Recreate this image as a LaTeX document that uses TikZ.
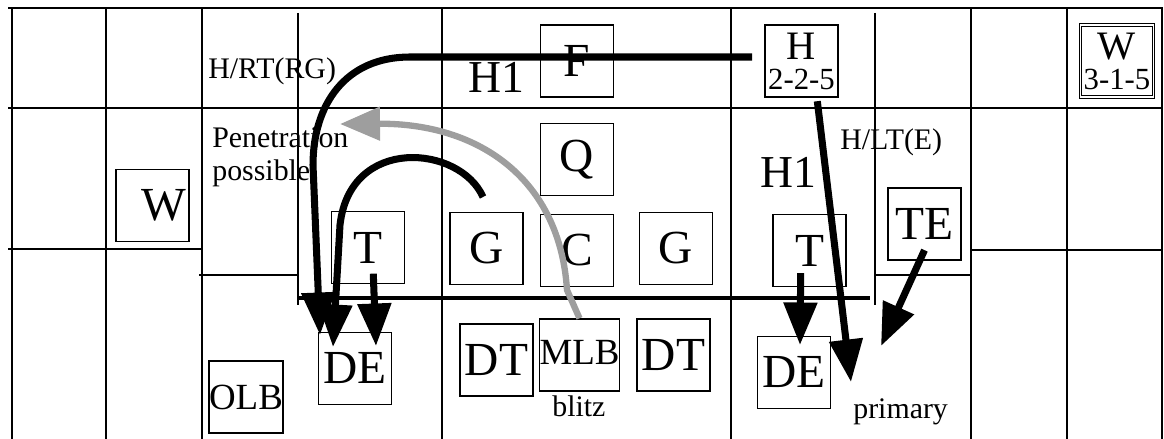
\documentclass[tikz,border=0pt]{standalone}
\usepackage{fontspec}
\setmainfont{Liberation Serif}
\usetikzlibrary{arrows.meta,positioning}

\begin{document}
\begin{tikzpicture}[x=0.02cm,y=-0.02cm,
	grid/.style={line width=1.1pt},
	player/.style={draw,line width=0.8pt,minimum width=1.46cm,minimum height=1.44cm,inner sep=0pt,font=\fontsize{27}{27}\selectfont},
	lbl/.style={inner sep=0pt,anchor=base west,font=\fontsize{17}{19}\selectfont},
	big/.style={inner sep=0pt,anchor=base west,font=\fontsize{26}{26}\selectfont},
	run/.style={line width=4pt,-{Triangle[length=0.85cm,width=0.65cm]}},
	blitzrun/.style={line width=3.6pt,black!38,-{Triangle[length=0.8cm,width=0.65cm]}}]
	\useasboundingbox (0,0) rectangle (1164,439);
	% field grid
	\draw[line width=1.7pt] (8,8) -- (1163,8);
	\draw[grid] (8,108) -- (1163,108);
	\foreach \x in {12,106,202,442,731,971,1067,1162}
	\draw[grid] (\x,8) -- (\x,439);
	\foreach \x in {298,875}
	\draw[grid] (\x,13) -- (\x,305);
	\draw[grid] (8,249) -- (202,249);
	\draw[grid] (971,250) -- (1163,250);
	\draw[line width=1.4pt] (199,275) -- (298,275);
	\draw[line width=1.4pt] (875,275) -- (971,275);
	\draw[line width=2.3pt] (298,298) -- (870,298);
	
	% offense
	\node[player] (F) at (577,61) {F};
	\node[player,align=center,font=\fontsize{23}{17}\selectfont] (Hb) at (801.5,61) {H\\{\fontsize{17.5}{17}\selectfont 2-2-5}};
	\node[player,double,double distance=1pt,line width=0.5pt,align=center,font=\fontsize{23}{17}\selectfont] (Wr) at (1117,61) {W\\{\fontsize{17.5}{17}\selectfont 3-1-5}};
	\node[player] (Q) at (577,159.5) {Q};
	\node[player] (Wl) at (152.5,205.5) {\hspace*{0.45cm}W};
	\node[player] (Tl) at (368,247.5) {T};
	\node[player] (Gl) at (486.5,248.5) {G};
	\node[player] (C) at (577,250.5) {C};
	\node[player] (Gr) at (676,248.5) {G};
	\node[player] (Tr) at (809.5,250.5) {T};
	\node[player] (TE) at (924.5,224) {TE};
	% defense
	\node[player,font=\fontsize{21}{21}\selectfont] (OLB) at (246,397) {OLB};
	\node[player] (DEl) at (355,368.5) {DE};
	\node[player] (DTl) at (496.5,360) {DT};
	\node[player,font=\fontsize{21}{21}\selectfont] (MLB) at (579.5,355) {\raisebox{3pt}{MLB}};
	\node[player] (DTr) at (673.5,355) {DT};
	\node[player] (DEr) at (794,372.5) {DE};
	
	% labels
	\node[lbl] (hrt) at (208,79) {H/RT(RG)};
	\node[lbl,align=left] (pen) at (212,181) {Penetration\\possible};
	\node[lbl] (hlt) at (840,150) {H/LT(E)};
	\node[big] (hOneL) at (468,93) {H1};
	\node[big] (hOneR) at (760,188) {H1};
	\node[lbl] (blitz) at (552,416) {blitz};
	\node[lbl] (prim) at (853,418) {primary};
	
	% routes
	\coordinate (hFrom) at (752,57);
	\coordinate (gFrom) at (483,197);
	\coordinate (tipA) at (320,335);
	\coordinate (tipG) at (333,347);
	\coordinate (tipTl) at (376,346);
	\coordinate (tipTr) at (800,345);
	\coordinate (tipTE) at (881,346);
	\coordinate (tipH) at (851,382);
	\coordinate (tipM) at (340,124);
	\draw[run] (hFrom) -- (410,57) .. controls (345,57) and (313,105) .. (313,165) -- (tipA);
	\draw[run] (gFrom) .. controls (460,145) and (350,135) .. (340,225) -- (tipG);
	\draw[run] ([xshift=3pt,yshift=6pt]Tl.south) -- (tipTl);
	\draw[run] ([xshift=-5pt,yshift=8pt]Tr.south) -- (tipTr);
	\draw[run] ([yshift=6pt]TE.south) -- (tipTE);
	\draw[run] ([xshift=9pt,yshift=-2pt]Hb.south) -- (tipH);
	\draw[blitzrun] (MLB.north) -- (567,290) .. controls (560,180) and (480,123) .. (tipM);
\end{tikzpicture}
\end{document}
